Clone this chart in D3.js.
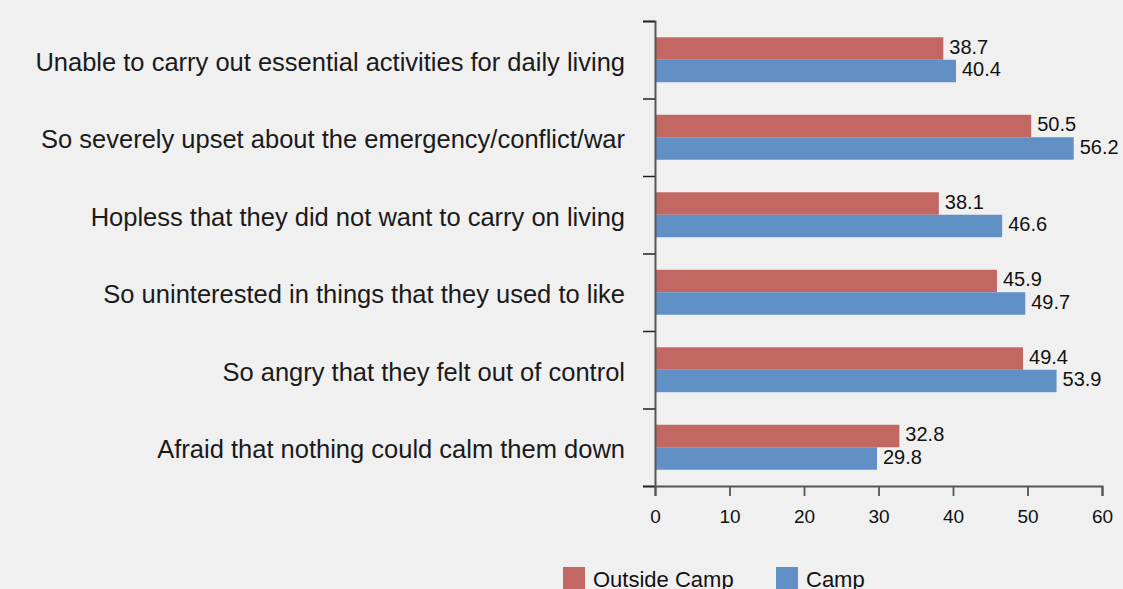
<!DOCTYPE html>
<html><head><meta charset="utf-8">
<script src="https://cdn.jsdelivr.net/npm/d3@7"></script>
<style>
html,body{margin:0;padding:0;background:#f0f0f0;}
svg{display:block;font-family:"Liberation Sans",Arial,Helvetica,sans-serif;}
</style></head><body>
<svg id="chart" width="1123" height="589"></svg>
<script>
const categories = [
  "Unable to carry out essential activities for daily living",
  "So severely upset about the emergency/conflict/war",
  "Hopless that they did not want to carry on living",
  "So uninterested in things that they used to like",
  "So angry that they felt out of control",
  "Afraid that nothing could calm them down"
];
const seriesNames = ["Outside Camp", "Camp"];
const outsideCamp = [38.7, 50.5, 38.1, 45.9, 49.4, 32.8];
const camp = [40.4, 56.2, 46.6, 49.7, 53.9, 29.8];
const xTicks = [0, 10, 20, 30, 40, 50, 60];
const colors = ["#c36762", "#6190c6"];

const svg = d3.select("#chart");
const plotLeft = 655, plotRight = 1102, plotTop = 21, plotBottom = 486;

const x = d3.scaleLinear().domain([0, 60]).range([plotLeft, plotRight]);
const y = d3.scaleBand().domain(categories).range([plotTop, plotBottom]).paddingInner(0.42).paddingOuter(0.21);
const ySub = d3.scaleBand().domain(seriesNames).range([0, y.bandwidth()]);
const yLin = d3.scaleLinear().domain([0, categories.length]).range([plotTop, plotBottom]);

const data = categories.map((c, i) => ({cat: c, vals: [outsideCamp[i], camp[i]]}));

const groups = svg.append("g").selectAll("g").data(data).join("g")
  .attr("transform", d => `translate(0,${y(d.cat)})`);

groups.selectAll("rect").data(d => d.vals.map((v, k) => ({v, k})))
  .join("rect")
  .attr("x", x(0))
  .attr("y", d => ySub(seriesNames[d.k]))
  .attr("width", d => x(d.v) - x(0))
  .attr("height", ySub.bandwidth())
  .attr("fill", d => colors[d.k]);

groups.selectAll("text").data(d => d.vals.map((v, k) => ({v, k})))
  .join("text")
  .attr("x", d => x(d.v) + 6)
  .attr("y", d => ySub(seriesNames[d.k]) + ySub.bandwidth() / 2)
  .attr("dy", "0.26em")
  .attr("font-size", 20)
  .attr("fill", "#111")
  .text(d => d.v.toFixed(1));

// y axis (ticks at band boundaries)
const yAxis = svg.append("g").attr("transform", `translate(${plotLeft},0)`)
  .call(d3.axisLeft(yLin).tickValues(d3.range(0, categories.length + 1)).tickFormat("").tickSize(12).tickSizeOuter(12));
yAxis.select(".domain").attr("stroke", "#555").attr("stroke-width", 2);
yAxis.selectAll(".tick line").attr("stroke", "#222").attr("stroke-width", 1.5);

// category labels
svg.append("g").selectAll("text").data(categories).join("text")
  .attr("x", 625)
  .attr("y", d => y(d) + y.bandwidth() / 2)
  .attr("dy", "0.44em")
  .attr("text-anchor", "end")
  .attr("font-size", 25.5)
  .attr("fill", "#1a1a1a")
  .text(d => d);

// x axis
const xAxis = svg.append("g").attr("transform", `translate(0,${plotBottom})`)
  .call(d3.axisBottom(x).tickValues(xTicks).tickSize(10).tickSizeOuter(10));
xAxis.select(".domain").attr("stroke", "#555").attr("stroke-width", 2);
xAxis.selectAll(".tick line").attr("stroke", "#555").attr("stroke-width", 1.8);
xAxis.selectAll(".tick text").attr("font-size", 19).attr("fill", "#111").attr("dy", "1.25em")
  .attr("font-family", "\"Liberation Sans\",Arial,sans-serif");

// legend
const legend = svg.append("g");
const legX = [563, 776];
seriesNames.forEach((s, i) => {
  legend.append("rect").attr("x", legX[i]).attr("y", 567).attr("width", 22).attr("height", 22).attr("fill", colors[i]);
  legend.append("text").attr("x", legX[i] + 30).attr("y", 579).attr("dy", "0.36em")
    .attr("font-size", 22).attr("fill", "#111").text(s);
});
</script>
</body></html>
